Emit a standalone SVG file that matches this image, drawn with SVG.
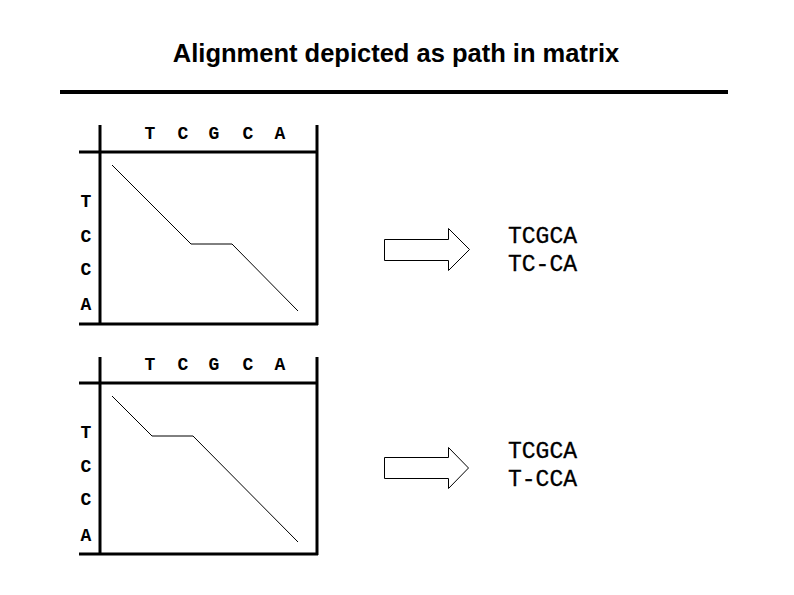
<svg xmlns="http://www.w3.org/2000/svg" width="794" height="595" viewBox="0 0 794 595">
<style>
.title{font-family:"Liberation Sans",Arial,sans-serif;font-weight:bold;font-size:25.5px;fill:#000}
.lbl{font-family:"Liberation Mono","Courier New",monospace;font-weight:bold;font-size:18px;fill:#000}
.seq{font-family:"Liberation Mono","Courier New",monospace;font-size:23px;fill:#000;stroke:#000;stroke-width:0.3}
.grid{stroke:#000;stroke-width:3;fill:none}
.path{stroke:#000;stroke-width:1;fill:none}
.arrow{stroke:#000;stroke-width:1;fill:#fff}
</style>
<rect width="794" height="595" fill="#fff"/>
<text class="title" x="396" y="62" text-anchor="middle">Alignment depicted as path in matrix</text>
<line x1="60" y1="92" x2="728" y2="92" stroke="#000" stroke-width="4"/>

<g id="matrix1">
  <line class="grid" x1="100" y1="125" x2="100" y2="325"/>
  <line class="grid" x1="317" y1="125" x2="317" y2="325"/>
  <line class="grid" x1="79" y1="152" x2="317" y2="152"/>
  <line class="grid" x1="79" y1="324" x2="318" y2="324"/>
  <text class="lbl" x="150" y="139" text-anchor="middle">T</text>
  <text class="lbl" x="183" y="139" text-anchor="middle">C</text>
  <text class="lbl" x="214" y="139" text-anchor="middle">G</text>
  <text class="lbl" x="248" y="139" text-anchor="middle">C</text>
  <text class="lbl" x="280" y="139" text-anchor="middle">A</text>
  <text class="lbl" x="86" y="207" text-anchor="middle">T</text>
  <text class="lbl" x="86" y="242" text-anchor="middle">C</text>
  <text class="lbl" x="86" y="275" text-anchor="middle">C</text>
  <text class="lbl" x="86" y="310" text-anchor="middle">A</text>
  <polyline class="path" points="112,165 191,244 232,244 298,311"/>
</g>

<g id="matrix2">
  <line class="grid" x1="100" y1="357" x2="100" y2="555"/>
  <line class="grid" x1="317" y1="357" x2="317" y2="555"/>
  <line class="grid" x1="79" y1="383" x2="317" y2="383"/>
  <line class="grid" x1="79" y1="554" x2="318" y2="554"/>
  <text class="lbl" x="150" y="370" text-anchor="middle">T</text>
  <text class="lbl" x="183" y="370" text-anchor="middle">C</text>
  <text class="lbl" x="214" y="370" text-anchor="middle">G</text>
  <text class="lbl" x="248" y="370" text-anchor="middle">C</text>
  <text class="lbl" x="280" y="370" text-anchor="middle">A</text>
  <text class="lbl" x="86" y="438" text-anchor="middle">T</text>
  <text class="lbl" x="86" y="472" text-anchor="middle">C</text>
  <text class="lbl" x="86" y="505" text-anchor="middle">C</text>
  <text class="lbl" x="86" y="541" text-anchor="middle">A</text>
  <polyline class="path" points="112,396 152,436 193,436 298,542"/>
</g>

<g id="connectors">
  <polygon id="arrow1" class="arrow" points="384.5,239.5 448.5,239.5 448.5,228.5 469.5,249.5 448.5,270.5 448.5,260.5 384.5,260.5"/>
  <polygon id="arrow2" class="arrow" points="384.5,457.5 448.5,457.5 448.5,447.5 468.5,468 448.5,488.5 448.5,478.5 384.5,478.5"/>
</g>

<g id="result1">
  <text class="seq" x="508" y="243">TCGCA</text>
  <text class="seq" x="508" y="271">TC-CA</text>
</g>
<g id="result2">
  <text class="seq" x="508" y="458">TCGCA</text>
  <text class="seq" x="508" y="486">T-CCA</text>
</g>
</svg>
